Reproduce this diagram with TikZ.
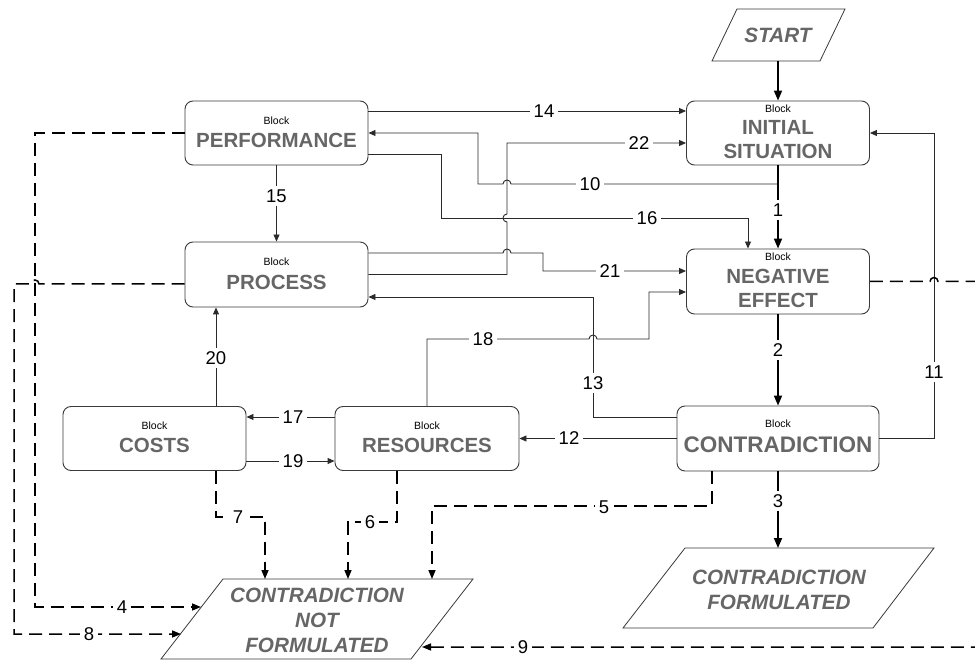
\documentclass[tikz,border=0pt]{standalone}
\usepackage{fontspec}
\setmainfont{Liberation Sans}
\usetikzlibrary{arrows.meta}
\definecolor{titlegray}{HTML}{666666}
\definecolor{boxc}{HTML}{3A3A3A}
\definecolor{linec}{HTML}{2A2A2A}
\tikzset{
  box/.style={draw=boxc, line width=0.9pt, rounded corners=8pt, minimum width=183pt, minimum height=64pt, inner sep=0pt},
  para/.style={draw=boxc, line width=0.8pt},
  conn/.style={draw=linec, line width=0.9pt, -{Triangle[length=7pt,width=6pt]}},
  mainflow/.style={draw=black, line width=1.7pt, -{Triangle[length=10pt,width=8pt]}},
  dsh/.style={draw=black, line width=1.5pt, dash pattern=on 13pt off 7pt, -{Triangle[length=9pt,width=7pt]}},
  blk/.style={font=\fontsize{10.5}{12}\selectfont, inner sep=0pt},
  ttl/.style={font=\fontsize{20.5}{24}\selectfont\bfseries, text=titlegray, inner sep=0pt},
  ittl/.style={font=\fontsize{20.7}{24}\selectfont\bfseries\itshape, text=titlegray, inner sep=0pt},
  lbl/.style={fill=white, inner sep=3.5pt, font=\fontsize{18.5}{18.5}\selectfont},
}
\begin{document}
\begin{tikzpicture}[x=1pt,y=-1pt]
\fill[white] (0,0) rectangle (975,660);
\useasboundingbox (0,0) rectangle (975,660);

% ---------- boxes ----------
\node[box] (perf) at (276.5,133) {};
\node[box] (init) at (778,133) {};
\node[box, minimum height=65pt] (proc) at (276.5,274.5) {};
\node[box, minimum height=65pt] (neg) at (778,281.5) {};
\node[box, minimum width=202pt, minimum height=65pt] (contr) at (778,438.5) {};
\node[box] (costs) at (154.5,438.5) {};
\node[box, minimum width=184pt] (res) at (427,438.5) {};

\node[blk] (perf-b) at (276.5,121) {Block};
\node[ttl] (perf-t) at (276.5,140) {PERFORMANCE};
\node[blk] (init-b) at (778,109) {Block};
\node[ttl] (init-t1) at (778,127) {INITIAL};
\node[ttl] (init-t2) at (778,151) {SITUATION};
\node[blk] (proc-b) at (276.5,262) {Block};
\node[ttl] (proc-t) at (276.5,282) {PROCESS};
\node[blk] (neg-b) at (778,257) {Block};
\node[ttl] (neg-t1) at (778,276) {NEGATIVE};
\node[ttl] (neg-t2) at (778,300) {EFFECT};
\node[blk] (contr-b) at (778,424) {Block};
\node[ttl, font=\fontsize{22.5}{26}\selectfont\bfseries] (contr-t) at (778,445) {CONTRADICTION};
\node[blk] (costs-b) at (154.5,426) {Block};
\node[ttl] (costs-t) at (154.5,445) {COSTS};
\node[blk] (res-b) at (427,426) {Block};
\node[ttl] (res-t) at (427,445) {RESOURCES};

% ---------- parallelograms ----------
\draw[para] (737,9) -- (845,9) -- (820,61) -- (712,61) -- cycle;
\node[ittl] (start) at (778,35) {START};
\coordinate (startB) at (778,61);

\draw[para] (223,579) -- (473,579) -- (411,659) -- (161,659) -- cycle;
\node[ittl] (nf1) at (317,595) {CONTRADICTION};
\node[ittl] (nf2) at (317,620) {NOT};
\node[ittl] (nf3) at (317,645) {FORMULATED};
\coordinate (nf4) at (201,607);
\coordinate (nf8) at (181,634);
\coordinate (nf9) at (422,647);
\coordinate (nf7) at (265,579);
\coordinate (nf6) at (348,579);
\coordinate (nf5) at (432,579);

\draw[para] (685,548) -- (934,548) -- (873,628) -- (623,628) -- cycle;
\node[ittl] (f1) at (779,577) {CONTRADICTION};
\node[ittl] (f2) at (779,602) {FORMULATED};
\coordinate (formT) at (778,548);

% ---------- main flow ----------
\draw[mainflow] (startB) -- (init.north);
\draw[mainflow] (init.south) -- (neg.north);
\draw[mainflow] (neg.south) -- (contr.north);
\draw[mainflow] (contr.south) -- (formT);

% ---------- solid connectors ----------
\coordinate (j10) at (778,184);
\draw[conn] (j10) -- (511,184) arc[start angle=0,end angle=180,radius=4pt] -- (478,184) -- (478,133) -- (perf.east);
\draw[conn] (perf.east |- 0,111) -- (init.west |- 0,111);
\draw[conn] (proc.east) -- (507,274.5) -- (507,222) arc[start angle=270,end angle=90,radius=4pt] -- (507,143) -- (init.west |- 0,143);
\draw[conn] (perf.east |- 0,154) -- (441,154) -- (441,218) -- (748,218) -- (neg.north -| 748,0);
\draw[conn] (proc.east |- 0,253) -- (503,253) arc[start angle=180,end angle=0,radius=4pt] -- (543,253) -- (543,271) -- (neg.west |- 0,271);
\draw[conn] (contr.west |- 0,417) -- (593,417) -- (593,297) -- (proc.east |- 0,297);
\draw[conn] (res.north) -- (427,339) -- (589,339) arc[start angle=180,end angle=0,radius=4pt] -- (649,339) -- (649,292) -- (neg.west |- 0,292);
\draw[conn] (contr.east) -- (934,438.5) -- (934,133) -- (init.east);
\draw[conn] (contr.west) -- (res.east);
\draw[conn] (res.west |- 0,417) -- (costs.east |- 0,417);
\draw[conn] (costs.east |- 0,461) -- (res.west |- 0,461);
\draw[conn] (costs.north -| 216,0) -- (proc.south -| 216,0);
\draw[conn] (perf.south) -- (proc.north);

% ---------- dashed connectors ----------
\draw[dsh] (neg.east) -- (930,281.5) arc[start angle=180,end angle=0,radius=4pt] -- (992,281.5) -- (992,647) -- (nf9);
\draw[dsh] (perf.west) -- (35,133) -- (35,607) -- (nf4);
\draw[dsh] (proc.west |- 0,284) -- (39,284) arc[start angle=0,end angle=180,radius=4pt] -- (14,284) -- (14,634) -- (nf8);
\draw[dsh] (costs.south -| 216,0) -- (216,517) -- (265,517) -- (nf7);
\draw[dsh] (res.south -| 397,0) -- (397,522) -- (348,522) -- (nf6);
\draw[dsh] (contr.south -| 712,0) -- (712,506) -- (432,506) -- (nf5);

% ---------- labels ----------
\node[lbl] (l1) at (778,210) {1};
\node[lbl] (l2) at (778,350) {2};
\node[lbl] (l3) at (778,501) {3};
\node[lbl] (l4) at (122,607) {4};
\node[lbl] (l5) at (604,507) {5};
\node[lbl] (l6) at (370,522) {6};
\node[lbl] (l7) at (238,517) {7};
\node[lbl] (l8) at (89,634) {8};
\node[lbl] (l9) at (523,647) {9};
\node[lbl] (l10) at (590,184) {10};
\node[lbl] (l11) at (934,372) {11};
\node[lbl] (l12) at (569,438.5) {12};
\node[lbl] (l13) at (593,383) {13};
\node[lbl] (l14) at (544,111) {14};
\node[lbl] (l15) at (276.5,196) {15};
\node[lbl] (l16) at (647,218) {16};
\node[lbl] (l17) at (293,417) {17};
\node[lbl] (l18) at (483,339) {18};
\node[lbl] (l19) at (293,461) {19};
\node[lbl] (l20) at (216,358) {20};
\node[lbl] (l21) at (610,271) {21};
\node[lbl] (l22) at (639,143) {22};
\end{tikzpicture}
\end{document}
